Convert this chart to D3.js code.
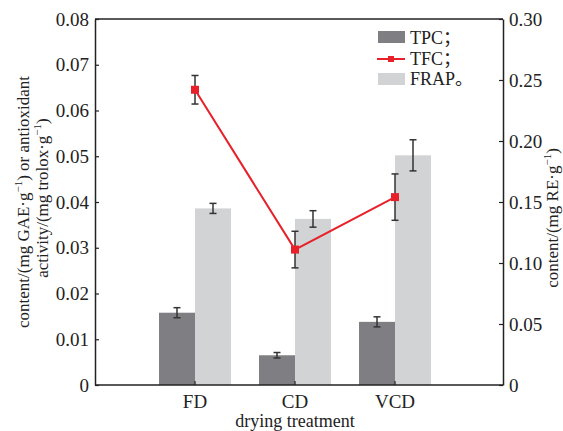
<!DOCTYPE html>
<html>
<head>
<meta charset="utf-8">
<script src="https://cdn.jsdelivr.net/npm/d3@7"></script>
<style>
  body { margin: 0; background: #fff; }
  text { font-family: "Liberation Serif", "Noto Sans CJK SC", serif; fill: #222; }
</style>
</head>
<body>
<svg></svg>
<script>
var width = 563;
var height = 431;

// data
var categories = ["FD", "CD", "VCD"];
var tpc = [0.0158, 0.0065, 0.0138];
var tpcErr = [0.0011, 0.0006, 0.0011];
var frap = [0.0386, 0.0363, 0.0502];
var frapErr = [0.0011, 0.0018, 0.0034];
var tfc = [0.242, 0.111, 0.154];
var tfcErr = [0.0117, 0.015, 0.019];
var leftTicks = [0, 0.01, 0.02, 0.03, 0.04, 0.05, 0.06, 0.07, 0.08];
var rightTicks = [0, 0.05, 0.10, 0.15, 0.20, 0.25, 0.30];

// plot frame (window.top is reserved, so plotTop etc.)
var plotLeft = 95, plotRight = 503, plotTop = 19, plotBottom = 385;

var svg = d3.select("svg")
              .attr("width", width)
              .attr("height", height);

var x = d3.scaleBand()
          .domain(categories)
          .range([145, 445]);

var inner = d3.scaleBand()
          .domain(["tpc", "frap"])
          .range([x.bandwidth() / 2 - 36, x.bandwidth() / 2 + 36]);

var yLeft = d3.scaleLinear().domain([0, 0.08]).range([plotBottom, plotTop]);
var yRight = d3.scaleLinear().domain([0, 0.30]).range([plotBottom, plotTop]);

var bars = categories.map((c, i) => ({ cat: c, tpc: tpc[i], tpcErr: tpcErr[i], frap: frap[i], frapErr: frapErr[i], tfc: tfc[i], tfcErr: tfcErr[i] }));

// bars
svg.selectAll("rect.tpc")
  .data(bars)
  .enter()
  .append("rect")
    .attr("class", "tpc")
    .attr("x", d => x(d.cat) + inner("tpc"))
    .attr("y", d => yLeft(d.tpc))
    .attr("width", inner.bandwidth())
    .attr("height", d => plotBottom - yLeft(d.tpc))
    .attr("fill", "#7f7f83");

svg.selectAll("rect.frap")
  .data(bars)
  .enter()
  .append("rect")
    .attr("class", "frap")
    .attr("x", d => x(d.cat) + inner("frap"))
    .attr("y", d => yLeft(d.frap))
    .attr("width", inner.bandwidth())
    .attr("height", d => plotBottom - yLeft(d.frap))
    .attr("fill", "#d2d3d5");

// error bars
function errorBar(cx, yTop, yBot) {
  var g = svg.append("g").attr("stroke", "#333").attr("stroke-width", 1.5);
  g.append("line").attr("x1", cx).attr("x2", cx).attr("y1", yTop).attr("y2", yBot);
  g.append("line").attr("x1", cx - 3.5).attr("x2", cx + 3.5).attr("y1", yTop).attr("y2", yTop);
  g.append("line").attr("x1", cx - 3.5).attr("x2", cx + 3.5).attr("y1", yBot).attr("y2", yBot);
}

bars.forEach(d => {
  var cx = x(d.cat) + inner("tpc") + inner.bandwidth() / 2;
  errorBar(cx, yLeft(d.tpc + d.tpcErr), yLeft(d.tpc - d.tpcErr));
  cx = x(d.cat) + inner("frap") + inner.bandwidth() / 2;
  errorBar(cx, yLeft(d.frap + d.frapErr), yLeft(d.frap - d.frapErr));
});

// TFC line on right axis
var cxMid = d => x(d.cat) + x.bandwidth() / 2;

svg.append("path")
  .datum(bars)
  .attr("fill", "none")
  .attr("stroke", "#e8202a")
  .attr("stroke-width", 2)
  .attr("d", d3.line().x(cxMid).y(d => yRight(d.tfc)));

bars.forEach(d => {
  errorBar(cxMid(d), yRight(d.tfc + d.tfcErr), yRight(d.tfc - d.tfcErr));
});

svg.selectAll("rect.tfc")
  .data(bars)
  .enter()
  .append("rect")
    .attr("class", "tfc")
    .attr("x", d => cxMid(d) - 4)
    .attr("y", d => yRight(d.tfc) - 4)
    .attr("width", 8)
    .attr("height", 8)
    .attr("fill", "#e8202a");

// axes
var fmt = v => v === 0 ? "0" : v.toFixed(2);

var axL = svg.append("g")
  .attr("transform", `translate(${plotLeft},0)`)
  .call(d3.axisLeft(yLeft).tickValues(leftTicks).tickFormat(fmt).tickSizeInner(-4).tickSizeOuter(0).tickPadding(6));

var axR = svg.append("g")
  .attr("transform", `translate(${plotRight},0)`)
  .call(d3.axisRight(yRight).tickValues(rightTicks).tickFormat(fmt).tickSizeInner(-4).tickSizeOuter(0).tickPadding(6));

var axB = svg.append("g")
  .attr("transform", `translate(0,${plotBottom})`)
  .call(d3.axisBottom(x).tickSizeInner(-4).tickSizeOuter(0).tickPadding(10));

axB.select(".domain").attr("d", `M${plotLeft},0H${plotRight}`);

svg.append("line")
  .attr("x1", plotLeft).attr("x2", plotRight)
  .attr("y1", plotTop).attr("y2", plotTop)
  .attr("stroke", "#222").attr("stroke-width", 1.5);

[axL, axR, axB].forEach(a => {
  a.selectAll(".domain").attr("stroke", "#222").attr("stroke-width", 1.5);
  a.selectAll(".tick line").attr("stroke", "#222").attr("stroke-width", 1.2);
  a.selectAll(".tick text")
    .attr("fill", "#222")
    .style("font-family", '"Liberation Serif", serif')
    .style("font-size", "19px");
});

// axis titles
var t1 = svg.append("text")
  .attr("transform", "translate(29,202) rotate(-90)")
  .attr("text-anchor", "middle")
  .style("font-size", "17px");
t1.append("tspan").text("content/(mg GAE·g");
t1.append("tspan").attr("dy", -7).style("font-size", "11px").text("−1");
t1.append("tspan").attr("dy", 7).text(") or antioxidant");

var t2 = svg.append("text")
  .attr("transform", "translate(48,198) rotate(-90)")
  .attr("text-anchor", "middle")
  .style("font-size", "17px");
t2.append("tspan").text("activity/(mg trolox·g");
t2.append("tspan").attr("dy", -7).style("font-size", "11px").text("−1");
t2.append("tspan").attr("dy", 7).text(")");

var t3 = svg.append("text")
  .attr("transform", "translate(558,218) rotate(-90)")
  .attr("text-anchor", "middle")
  .style("font-size", "17px");
t3.append("tspan").text("content/(mg RE·g");
t3.append("tspan").attr("dy", -7).style("font-size", "11px").text("−1");
t3.append("tspan").attr("dy", 7).text(")");

svg.append("text")
  .attr("x", 295)
  .attr("y", 427)
  .attr("text-anchor", "middle")
  .style("font-size", "18px")
  .text("drying treatment");

// legend
var legend = svg.append("g");
legend.append("rect").attr("x", 378).attr("y", 31).attr("width", 27).attr("height", 12).attr("fill", "#7f7f83");
legend.append("line").attr("x1", 377).attr("x2", 405).attr("y1", 59).attr("y2", 59).attr("stroke", "#e8202a").attr("stroke-width", 2);
legend.append("rect").attr("x", 388).attr("y", 56).attr("width", 6).attr("height", 6).attr("fill", "#e8202a");
legend.append("rect").attr("x", 378).attr("y", 73).attr("width", 27).attr("height", 12).attr("fill", "#d2d3d5");

var labels = ["TPC；", "TFC；", "FRAP。"];
var ly = [44, 65, 85];
legend.selectAll("text")
  .data(labels)
  .enter()
  .append("text")
    .attr("x", 410)
    .attr("y", (d, i) => ly[i])
    .style("font-size", "18px")
    .text(d => d);
</script>
</body>
</html>
